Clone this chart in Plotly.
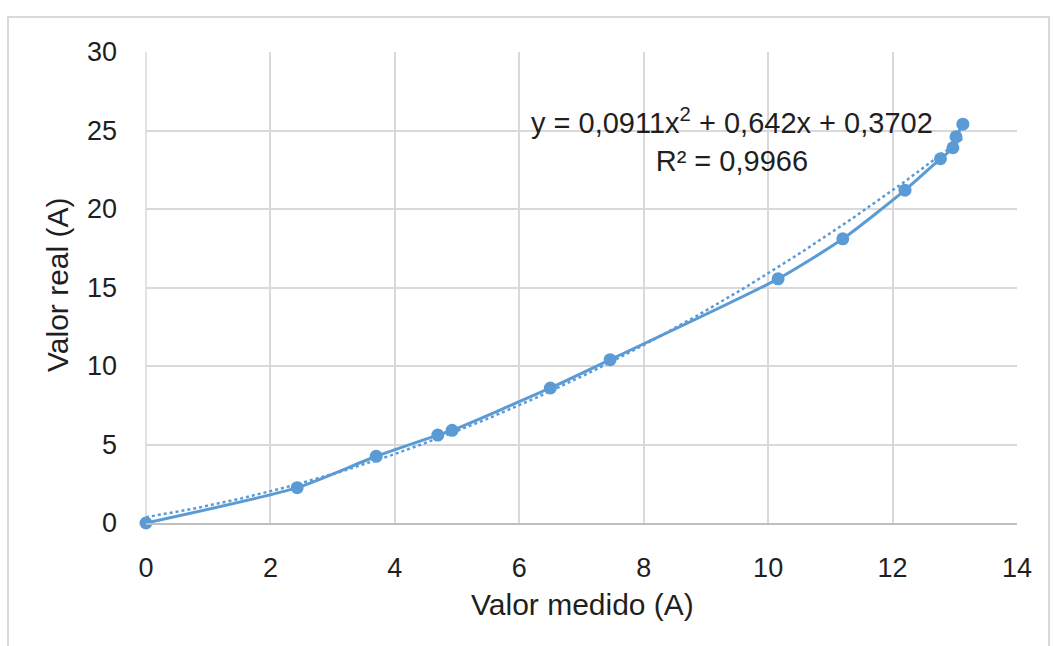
import numpy as np
import plotly.graph_objects as go

# Data
valor_medido = [0, 2.43, 3.70, 4.69, 4.92, 6.50, 7.46, 10.16, 11.20, 12.20, 12.77, 12.97, 13.02, 13.13]
valor_real = [0, 2.25, 4.25, 5.6, 5.9, 8.6, 10.4, 15.55, 18.1, 21.2, 23.2, 23.9, 24.6, 25.4]

# Polynomial trendline coefficients (as displayed)
trend_coefs = [0.0911, 0.642, 0.3702]
x_ticks = [0, 2, 4, 6, 8, 10, 12, 14]
y_ticks = [0, 5, 10, 15, 20, 25, 30]
x_title = "Valor medido (A)"
y_title = "Valor real (A)"

blue = "#5B9BD5"
font_fam = "Liberation Sans, Arial, sans-serif"
txt = "#1F1F1F"

xt = np.linspace(min(valor_medido), max(valor_medido), 200)
yt = np.polyval(trend_coefs, xt)

fig = go.Figure()
fig.add_trace(go.Scatter(x=xt, y=yt, mode="lines",
                         line=dict(color=blue, width=2.5, dash="dot"),
                         hoverinfo="skip", showlegend=False, cliponaxis=False))
fig.add_trace(go.Scatter(x=valor_medido, y=valor_real, mode="lines+markers",
                         line=dict(color=blue, width=3, shape="spline", smoothing=0.6),
                         marker=dict(color=blue, size=13),
                         showlegend=False, cliponaxis=False))

fig.add_annotation(x=9.42, y=24.4, xref="x", yref="y",
                   text="y = 0,0911x<sup>2</sup> + 0,642x + 0,3702<br>R² = 0,9966",
                   showarrow=False, align="center",
                   font=dict(family=font_fam, size=29, color=txt))

# layout geometry
L, R, T, B = 146, 36, 52, 123
W, H = 1053, 646
pw, ph = W - L - R, H - T - B
def px2x(px):
    return (px - L) / pw
def py2y(py):
    return (H - B - py) / ph

# axis titles
fig.add_annotation(x=px2x(582), y=py2y(604), xref="paper", yref="paper",
                   text=x_title, showarrow=False,
                   xanchor="center", yanchor="middle",
                   font=dict(family=font_fam, size=30, color=txt))
fig.add_annotation(x=px2x(57), y=py2y(285), xref="paper", yref="paper",
                   text=y_title, showarrow=False, textangle=-90,
                   xanchor="center", yanchor="middle",
                   font=dict(family=font_fam, size=30, color=txt))

# outer chart border
fig.add_shape(type="rect", xref="paper", yref="paper",
              x0=px2x(8), x1=px2x(1049), y0=py2y(17), y1=py2y(660),
              line=dict(color="#D9D9D9", width=2), fillcolor="rgba(0,0,0,0)", layer="below")
fig.add_shape(type="line", xref="paper", yref="paper", x0=0, x1=0, y0=0, y1=1,
              line=dict(color="#D9D9D9", width=1.5), layer="below")

fig.update_layout(
    width=W, height=H,
    margin=dict(l=L, r=R, t=T, b=B),
    paper_bgcolor="white", plot_bgcolor="white",
    font=dict(family=font_fam, color=txt),
    xaxis=dict(range=[0, 14], tickvals=x_ticks, ticktext=[str(v) for v in x_ticks],
               showgrid=True, gridcolor="#D9D9D9", gridwidth=1.5,
               zeroline=False, showline=True, linecolor="#BFBFBF", linewidth=1.5,
               ticks="", ticklabelstandoff=20,
               tickfont=dict(size=27, color=txt)),
    yaxis=dict(range=[0, 30], tickvals=y_ticks, ticktext=[str(v) for v in y_ticks],
               showgrid=True, gridcolor="#D9D9D9", gridwidth=1.5,
               zeroline=False, showline=False,
               ticks="", ticklabelstandoff=28,
               tickfont=dict(size=27, color=txt)),
)

fig.write_html("out.html")
